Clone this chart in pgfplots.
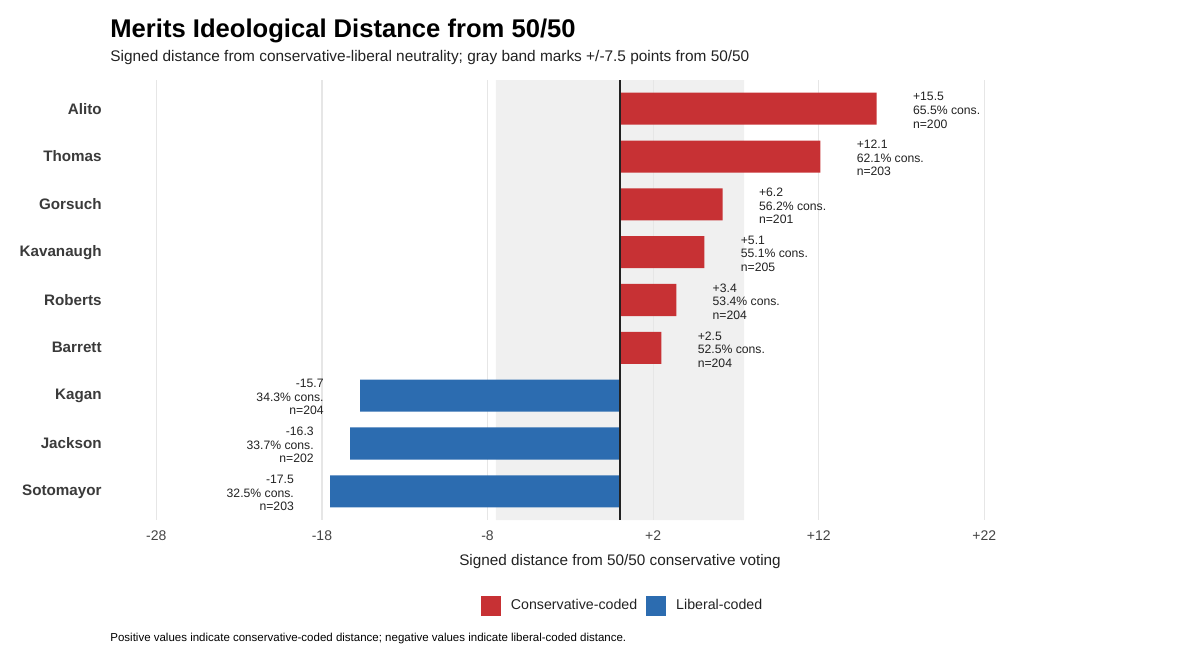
\documentclass[border=0pt]{standalone}
\usepackage{pgfplots}
\pgfplotsset{compat=1.18}
\usepackage{pgfplotstable}
\usepackage{fontspec}
\setmainfont{Liberation Sans}
\definecolor{consred}{RGB}{199,49,52}
\definecolor{libblue}{RGB}{44,108,176}
\definecolor{bandgray}{RGB}{240,240,240}
\definecolor{gridgray}{RGB}{230,230,230}
\definecolor{txtdark}{RGB}{34,34,34}
\definecolor{ticktxt}{RGB}{68,68,68}
\definecolor{ylab}{RGB}{58,58,58}

\pgfplotstableread{
y x pct n
0 15.5 65.5 200
1 12.1 62.1 203
2 6.2 56.2 201
3 5.1 55.1 205
4 3.4 53.4 204
5 2.5 52.5 204
}\consdata
\pgfplotstableread{
y x pct n
6 -15.7 34.3 204
7 -16.3 33.7 202
8 -17.5 32.5 203
}\libdata

\pgfplotsset{
  mylegend/.style={legend image code/.code={\fill[##1] (0bp,-5bp) rectangle (10bp,5bp);}},
}

\begin{document}
\begin{tikzpicture}
\path[use as bounding box] (0,0) rectangle (600bp,332bp);
\begin{axis}[
  at={(55bp,72bp)}, anchor=south west,
  scale only axis, width=510bp, height=220bp,
  xmin=-30.8, xmax=30.8, ymin=-0.6, ymax=8.6, y dir=reverse,
  xtick={-28,-18,-8,2,12,22},
  xticklabels={-28,-18,-8,+2,+12,+22},
  ytick={0,1,2,3,4,5,6,7,8},
  yticklabels={Alito,Thomas,Gorsuch,Kavanaugh,Roberts,Barrett,Kagan,Jackson,Sotomayor},
  axis line style={draw=none},
  major tick length=0pt,
  /pgf/number format/assume math mode=true,
  xticklabel style={font=\fontsize{7bp}{8bp}\selectfont, text=ticktxt, inner sep=0pt, yshift=-5bp},
  yticklabel style={font=\bfseries\fontsize{7.6bp}{9bp}\selectfont, text=ylab, inner sep=0pt, xshift=-4bp},
  xlabel={Signed distance from 50/50 conservative voting},
  xlabel style={at={(axis description cs:0.5,-0.1023)}, anchor=base, inner sep=0pt, font=\fontsize{7.65bp}{9bp}\selectfont, text=txtdark},
  legend style={at={(axis description cs:0.3637,-0.1955)}, anchor=west, draw=none, fill=none, inner sep=0pt, outer sep=0pt, legend columns=2, font=\fontsize{7.1bp}{8bp}\selectfont, text=txtdark, /tikz/every odd column/.append style={column sep=3bp}, /tikz/every even column/.append style={column sep=2.5bp}},
  clip=false,
]
% gray neutrality band
\addplot[fill=bandgray, draw=none, forget plot] coordinates {(-7.5,-0.6) (7.5,-0.6) (7.5,8.6) (-7.5,8.6) (-7.5,-0.6)};
% grid lines
\addplot[gridgray, line width=0.55bp, forget plot] coordinates {(-28,-0.6) (-28,8.6)};
\addplot[gridgray, line width=0.55bp, forget plot] coordinates {(-18,-0.6) (-18,8.6)};
\addplot[gridgray, line width=0.55bp, forget plot] coordinates {(-8,-0.6) (-8,8.6)};
\addplot[gridgray, line width=0.55bp, forget plot] coordinates {(2,-0.6) (2,8.6)};
\addplot[gridgray, line width=0.55bp, forget plot] coordinates {(12,-0.6) (12,8.6)};
\addplot[gridgray, line width=0.55bp, forget plot] coordinates {(22,-0.6) (22,8.6)};
% conservative bars
\addplot[xbar, mylegend, fill=consred, draw=none, bar width=0.67, bar shift=0pt,
  point meta=x,
  visualization depends on={\thisrow{pct}\as\pctval},
  visualization depends on={\thisrow{n}\as\nval},
  nodes near coords={\pgfmathprintnumber[showpos,fixed,fixed zerofill,precision=1]{\pgfplotspointmeta}\\\pgfmathprintnumber[fixed,fixed zerofill,precision=1]{\pctval}\% cons.\\n=\pgfmathprintnumber[fixed,precision=0]{\nval}},
  every node near coord/.append style={anchor=west, xshift=18bp, yshift=-0.8bp, inner sep=0pt, align=left, font=\fontsize{6.1bp}{6.8bp}\selectfont, text=txtdark}]
  table[x=x,y=y] {\consdata};
\addlegendentry{Conservative-coded}
% liberal bars
\addplot[xbar, mylegend, fill=libblue, draw=none, bar width=0.67, bar shift=0pt,
  point meta=x,
  visualization depends on={\thisrow{pct}\as\pctval},
  visualization depends on={\thisrow{n}\as\nval},
  nodes near coords={\pgfmathprintnumber[fixed,fixed zerofill,precision=1]{\pgfplotspointmeta}\\\pgfmathprintnumber[fixed,fixed zerofill,precision=1]{\pctval}\% cons.\\n=\pgfmathprintnumber[fixed,precision=0]{\nval}},
  every node near coord/.append style={anchor=east, xshift=-18bp, yshift=-0.8bp, inner sep=0pt, align=right, font=\fontsize{6.1bp}{6.8bp}\selectfont, text=txtdark}]
  table[x=x,y=y] {\libdata};
\addlegendentry{Liberal-coded}
% zero line
\addplot[color=txtdark, line width=0.7bp, forget plot] coordinates {(0,-0.6) (0,8.6)};
\end{axis}
\node[anchor=base west, inner sep=0pt, font=\bfseries\fontsize{12.8bp}{15bp}\selectfont] at (55bp,313bp) {Merits Ideological Distance from 50/50};
\node[anchor=base west, inner sep=0pt, font=\fontsize{7.7bp}{9bp}\selectfont, text=txtdark] at (55bp,301bp) {Signed distance from conservative-liberal neutrality; gray band marks +/-7.5 points from 50/50};
\node[anchor=base west, inner sep=0pt, font=\fontsize{5.75bp}{7bp}\selectfont] at (55bp,11.5bp) {Positive values indicate conservative-coded distance; negative values indicate liberal-coded distance.};
\end{tikzpicture}
\end{document}
